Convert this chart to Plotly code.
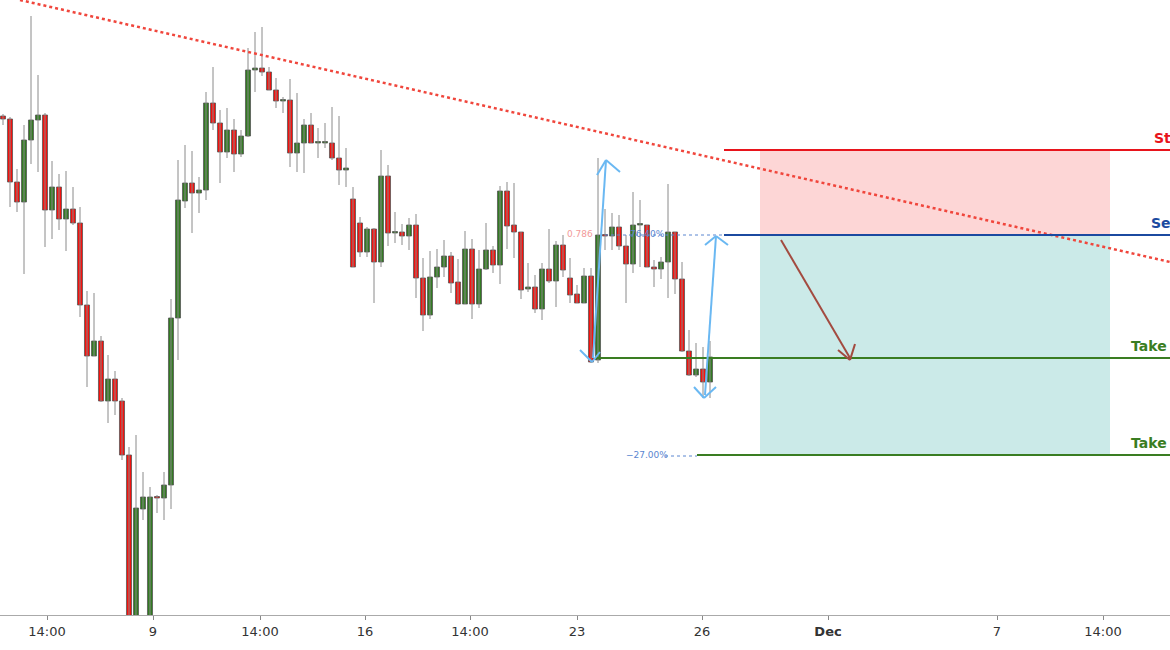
import plotly.graph_objects as go

# candle data, in pixel-row units (top of body, bottom of body, wick top, wick bottom, colour)
body_top = [116,119,182,140,120,115,115,187,187,209,209,223,305,341,341,379,379,401,455,508,497,497,497,485,318,200,
            183,183,190,103,103,123,130,130,136,70,68,68,72,90,100,100,143,125,125,143,143,143,158,168,
            199,223,229,229,176,176,232,232,225,225,278,277,267,256,256,282,249,249,269,250,250,191,191,225,232,
            287,287,269,269,245,245,278,294,276,276,235,235,227,227,246,225,225,225,267,262,232,232,279,351,369,369,357]
body_bot = [119,182,202,202,140,120,210,210,219,219,223,305,356,356,401,401,401,455,630,625,509,625,498,498,485,318,
            201,193,193,190,123,152,152,154,154,136,70,72,90,101,101,153,153,143,143,143,143,158,170,170,
            267,252,252,262,262,233,233,236,236,278,315,315,277,267,283,304,304,304,304,269,265,265,226,232,290,
            289,309,309,281,281,270,295,303,303,362,360,236,236,246,264,264,225,267,269,269,262,279,351,375,375,382,382]
wick_top = [114,117,169,125,16,75,113,161,174,171,187,207,291,293,336,355,371,398,447,435,472,487,495,472,299,160,
            145,151,177,92,67,110,108,119,130,48,32,27,67,78,97,79,93,119,113,128,123,107,116,148,
            187,217,227,228,150,165,212,224,218,214,258,251,249,240,252,259,231,239,250,223,246,186,182,183,232,
            263,275,263,229,241,235,258,285,268,268,158,209,213,215,235,192,200,225,260,257,184,232,262,330,343,347,341]
wick_bot = [125,207,212,274,164,172,247,239,230,251,225,317,387,356,402,423,415,460,640,630,520,630,513,520,509,360,
            208,233,213,200,130,183,158,172,157,137,92,76,90,108,113,167,172,173,143,158,148,160,185,187,
            267,257,257,303,267,246,243,245,250,298,331,319,288,277,293,305,304,319,308,270,273,284,249,258,299,
            292,313,320,283,307,277,303,303,303,363,363,250,250,250,303,273,267,267,287,279,298,294,352,376,377,398,398]
colour = list("rrrgggrgrgrrrgrgrrrgggrggg" "grggrrgrgggrrrgrggrggrrg"
              "rrgrgrgrgrrgggrrgrggrgrrr" "grgrgrrrgrgrgrrggrrggrrrgrg")

tick_px = [47, 153, 260, 365, 470, 577, 702, 828, 997, 1103]
tick_text = ["14:00", "9", "14:00", "16", "14:00", "23", "26", "<b>Dec</b>", "7", "14:00"]

H = 615
def X(px):
    return (px - 3) / 7.0
def Y(py):
    return H - py

n = len(body_top)
idx = list(range(n))

fig = go.Figure()
fig.add_shape(type="rect", x0=X(760), x1=X(1110), y0=Y(150), y1=Y(235), fillcolor="#fdd6d6", line_width=0, layer="below")
fig.add_shape(type="rect", x0=X(760), x1=X(1110), y0=Y(235), y1=Y(455), fillcolor="#cbeae8", line_width=0, layer="below")

wx, wy = [], []
for i in idx:
    wx += [i, i, None]; wy += [Y(wick_top[i]), Y(wick_bot[i]), None]
fig.add_trace(go.Scatter(x=wx, y=wy, mode="lines", line=dict(color="#8a8a8a", width=1),
                         showlegend=False, hoverinfo="skip"))
for c, fill in (("g", "#337a22"), ("r", "#f3120e")):
    ii = [i for i in idx if colour[i] == c]
    base = [Y(body_bot[i]) for i in ii]
    hgt = [max(Y(body_top[i]) - Y(body_bot[i]), 1.5) for i in ii]
    fig.add_trace(go.Bar(x=ii, y=hgt, base=base, width=0.72, marker=dict(color=fill, line=dict(color="#555", width=0.8)),
                         showlegend=False, hoverinfo="skip"))

def seg(x0, y0, x1, y1, color, width=2, dash="solid"):
    fig.add_trace(go.Scatter(x=[X(x0), X(x1)], y=[Y(y0), Y(y1)], mode="lines",
                             line=dict(color=color, width=width, dash=dash),
                             showlegend=False, hoverinfo="skip", cliponaxis=True))

seg(20, 0, 1170, 262, "#f0463c", 2.5, "dot")
seg(724, 150, 1170, 150, "#e8141c", 2)
seg(724, 235, 1170, 235, "#1b4aa0", 2)
seg(597, 358, 1170, 358, "#3a7d22", 2)
seg(697, 455, 1170, 455, "#3a7d22", 2)
seg(605, 235, 724, 235, "#5a86d0", 1, "dot")
seg(665, 456, 697, 456, "#5a86d0", 1, "dot")

blue = "#6ab8f2"
seg(593, 358, 606, 160, blue, 2)
seg(597, 175, 606, 160, blue, 2); seg(620, 172, 606, 160, blue, 2)
seg(580, 350, 592, 362, blue, 2); seg(600, 352, 592, 362, blue, 2)
seg(705, 395, 716, 236, blue, 2)
seg(705, 245, 716, 236, blue, 2); seg(728, 245, 716, 236, blue, 2)
seg(694, 387, 704, 398, blue, 2); seg(716, 387, 704, 398, blue, 2)
seg(781, 240, 850, 358, "#a34b40", 2)
seg(838, 350, 850, 360, "#a34b40", 2); seg(855, 344, 850, 360, "#a34b40", 2)

def txt(px, py, s, color, size, pos="middle right", bold=True):
    fig.add_trace(go.Scatter(x=[X(px)], y=[Y(py)], mode="text", text=[f"<b>{s}</b>" if bold else s],
                             textposition=pos, textfont=dict(color=color, size=size, family="DejaVu Sans"),
                             showlegend=False, hoverinfo="skip", cliponaxis=True))
txt(1154, 139, "Stop", "#e8141c", 14)
txt(1151, 224, "Sell", "#1b4aa0", 14)
txt(1131, 347, "Take Profit", "#3a7d22", 14)
txt(1131, 444, "Take Profit", "#3a7d22", 14)
txt(567, 235, "0.786", "#f29a9a", 9, bold=False)
txt(630, 235, "76.40%", "#5a86d0", 9, bold=False)
txt(626, 456, "\u221227.00%", "#5a86d0", 9, bold=False)

fig.update_layout(
    width=1170, height=650, margin=dict(l=0, r=0, t=0, b=35),
    paper_bgcolor="white", plot_bgcolor="white", barmode="overlay",
    xaxis=dict(range=[X(0), X(1170)], showgrid=False, zeroline=False,
               tickvals=[X(p) for p in tick_px], ticktext=tick_text, ticks="outside", ticklen=4,
               tickcolor="#888", showline=True, linecolor="#aaa", linewidth=1,
               tickfont=dict(family="DejaVu Sans", size=13, color="#333")),
    yaxis=dict(range=[0, H], visible=False, showgrid=False, zeroline=False),
)
fig.write_html("out.html", config={"displayModeBar": False},
               post_script="document.body.style.margin='0';document.body.style.overflow='hidden';")
